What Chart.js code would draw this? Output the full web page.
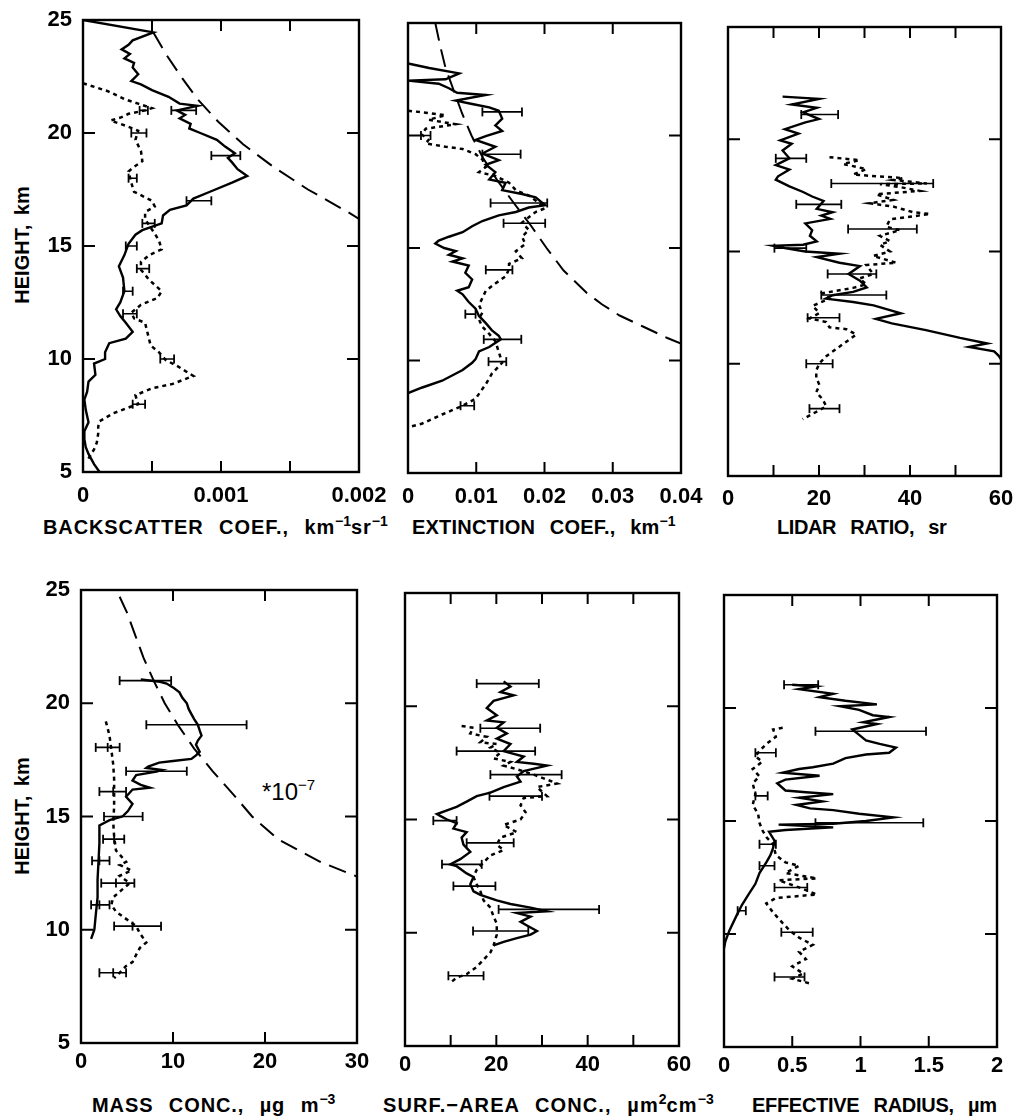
<!DOCTYPE html>
<html>
<head>
<meta charset="utf-8">
<script src="https://cdn.jsdelivr.net/npm/chart.js@4.4.1/dist/chart.umd.min.js"></script>
<style>
  body { margin:0; background:#fff; width:1016px; height:1120px; position:relative; overflow:hidden;
         font-family:'Liberation Sans', Arial, sans-serif; color:#000; }
  canvas { position:absolute; }
  .t { position:absolute; font-size:20px; font-weight:bold; line-height:24px; word-spacing:9px; white-space:nowrap; }
  .t sup { font-size:14px; vertical-align:8px; line-height:0; letter-spacing:0; }
  .yt { position:absolute; width:200px; text-align:center; transform:rotate(-90deg); word-spacing:4px; }
  .note { position:absolute; font-size:24px; line-height:28px; white-space:nowrap; }
  .note sup { font-size:15px; vertical-align:10px; line-height:0; }
</style>
</head>
<body>
<div class="t yt" style="left:-78px;top:233px">HEIGHT, km</div>
<div class="t yt" style="left:-78px;top:804px">HEIGHT, km</div>
<div class="t" style="left:43px;top:515px;letter-spacing:0.9px">BACKSCATTER COEF., km<sup>−1</sup>sr<sup>−1</sup></div>
<div class="t" style="left:412px;top:515px;letter-spacing:0.2px">EXTINCTION COEF., km<sup>−1</sup></div>
<div class="t" style="left:777px;top:515px;letter-spacing:-0.4px">LIDAR RATIO, sr</div>
<div class="t" style="left:92px;top:1093px;letter-spacing:0.9px">MASS CONC., µg m<sup>−3</sup></div>
<div class="t" style="left:383px;top:1093px;letter-spacing:1.1px">SURF.−AREA CONC., µm<sup>2</sup>cm<sup>−3</sup></div>
<div class="t" style="left:752px;top:1093px;letter-spacing:-0.3px">EFFECTIVE RADIUS, µm</div>
<div class="note" style="left:262px;top:778px">*10<sup>−7</sup></div>

<script>
// ── axes ─────────────────────────────────────────────────────────────
const hTickVals = [5, 10, 15, 20, 25];
const hTickText = ['5', '10', '15', '20', '25'];

const bsTickVals = [0, 0.0005, 0.001, 0.0015, 0.002];
const bsTickText = ['0', '', '0.001', '', '0.002'];
const exTickVals = [0, 0.01, 0.02, 0.03, 0.04];
const exTickText = ['0', '0.01', '0.02', '0.03', '0.04'];
const lrTickVals = [0, 10, 20, 30, 40, 50, 60];
const lrTickText = ['0', '', '20', '', '40', '', '60'];
const msTickVals = [0, 10, 20, 30];
const msTickText = ['0', '10', '20', '30'];
const saTickVals = [0, 10, 20, 30, 40, 50, 60];
const saTickText = ['0', '', '20', '', '40', '', '60'];
const erTickVals = [0, 0.5, 1, 1.5, 2];
const erTickText = ['0', '0.5', '1', '1.5', '2'];

// ── profiles: [height km, value] ─────────────────────────────────────
const bsSolid = [[25.0,0],[24.45,0.00051],[24.1,0.00036],[23.9,0.00033],[23.7,0.00028],[23.5,0.00034],[23.3,0.00030],[23.1,0.00037],[22.9,0.00036],[22.6,0.00040],[22.3,0.00035],[22.15,0.00042],[21.9,0.00050],[21.6,0.00062],[21.3,0.00070],[21.2,0.00083],[21.0,0.00068],[20.8,0.00074],[20.65,0.00070],[20.4,0.00078],[20.2,0.00077],[20.0,0.00085],[19.7,0.00097],[19.4,0.00103],[19.1,0.00110],[18.9,0.00105],[18.7,0.00108],[18.4,0.00112],[18.1,0.00119],[17.8,0.00108],[17.4,0.00092],[17.1,0.00080],[16.8,0.00075],[16.6,0.00063],[16.35,0.00058],[16.0,0.00057],[15.7,0.00043],[15.5,0.00038],[15.1,0.00033],[14.6,0.00030],[14.1,0.00026],[13.6,0.00029],[13.0,0.00030],[12.5,0.00027],[12.2,0.00024],[11.9,0.00027],[11.6,0.00031],[11.2,0.00036],[10.9,0.00031],[10.7,0.00019],[10.3,0.00016],[10.0,0.00016],[9.8,0.00008],[9.3,0.00009],[9.0,0.00004],[8.55,0.00003],[8.2,0.00001],[7.75,0.00002],[7.2,0.00004],[6.8,0.00001],[6.45,0.00001],[6.1,0.00002],[5.8,0.00004],[5.35,0.00008],[5.0,0.00012]];
const bsDotted = [[22.2,0],[21.85,0.00018],[21.5,0.00030],[21.3,0.00040],[21.1,0.00050],[21.0,0.00045],[20.85,0.00033],[20.7,0.00028],[20.55,0.00020],[20.3,0.00032],[20.1,0.00040],[19.7,0.00038],[19.2,0.00042],[18.75,0.00043],[18.5,0.00037],[18.3,0.00033],[17.8,0.00035],[17.4,0.00037],[17.0,0.00050],[16.75,0.00052],[16.5,0.00045],[16.2,0.00045],[15.9,0.00048],[15.55,0.00052],[15.25,0.00055],[14.85,0.00057],[14.6,0.00048],[14.3,0.00042],[13.95,0.00042],[13.5,0.00048],[13.0,0.00057],[12.7,0.00054],[12.4,0.00042],[12.05,0.00035],[11.8,0.00037],[11.6,0.00045],[11.1,0.00047],[10.6,0.00049],[10.3,0.00055],[9.95,0.00060],[9.7,0.00068],[9.25,0.00080],[8.9,0.00065],[8.7,0.00050],[8.4,0.00038],[8.0,0.00040],[7.9,0.00035],[7.6,0.00022],[7.25,0.00012],[7.0,0.00011],[6.7,0.00011],[6.3,0.00010],[6.0,0.00008],[5.5,0.00003]];
const bsModel = [[24.45,0.00051],[23.5,0.00060],[22.5,0.00071],[21.5,0.00083],[20.5,0.00098],[19.5,0.00116],[18.5,0.00138],[17.5,0.00163],[16.5,0.00192],[16.2,0.0020]];
const bsErr = [[21,0.00064,0.00082],[19,0.00093,0.00114],[17,0.00075,0.00093],[15,0.00031,0.00039],[13,0.00029,0.00036],[21,0.00041,0.00047],[20,0.00035,0.00046],[18,0.00033,0.00039],[16,0.00043,0.00052],[14,0.00039,0.00048],[12,0.00029,0.00039],[10,0.00056,0.00066],[8,0.00036,0.00045]];

const exSolid = [[23.2,0],[23.0,0.0031],[22.76,0.0075],[22.5,0.0055],[22.44,0],[22.3,0.0045],[22.1,0.0060],[21.9,0.0072],[21.8,0.0114],[21.55,0.0070],[21.4,0.0094],[21.25,0.0119],[21.1,0.0133],[20.75,0.0138],[20.45,0.0128],[20.2,0.0138],[19.97,0.0114],[19.8,0.0099],[19.5,0.0128],[19.2,0.0109],[18.9,0.0133],[18.7,0.0114],[18.37,0.0128],[18.05,0.0119],[17.9,0.0143],[17.57,0.0138],[17.4,0.0167],[17.25,0.0187],[16.9,0.0201],[16.8,0.0177],[16.6,0.0158],[16.45,0.0133],[16.2,0.0109],[15.97,0.0094],[15.7,0.0080],[15.5,0.0060],[15.33,0.0045],[15.2,0.0040],[15.0,0.0053],[14.86,0.0070],[14.7,0.0060],[14.54,0.0080],[14.4,0.0065],[14.22,0.0089],[13.9,0.0084],[13.6,0.0094],[13.26,0.0089],[13.1,0.0072],[12.94,0.0080],[12.6,0.0089],[12.3,0.0099],[11.98,0.0104],[11.66,0.0114],[11.34,0.0123],[11.1,0.0133],[10.94,0.0136],[10.6,0.0119],[10.4,0.0104],[10.06,0.0099],[9.9,0.0094],[9.58,0.0080],[9.1,0.0050],[8.8,0.0021],[8.55,0]];
const exDotted = [[21.1,0],[21.0,0.0030],[20.9,0.0055],[20.7,0.0030],[20.5,0.0070],[20.3,0.0026],[20.05,0.0020],[19.8,0.0030],[19.65,0.0026],[19.5,0.0055],[19.4,0.0080],[19.17,0.0099],[18.93,0.0109],[18.6,0.0114],[18.37,0.0104],[18.2,0.0128],[17.9,0.0148],[17.57,0.0158],[17.33,0.0177],[17.0,0.0192],[16.77,0.0201],[16.6,0.0187],[16.37,0.0177],[16.13,0.0167],[15.8,0.0177],[15.5,0.0167],[15.18,0.0172],[14.86,0.0158],[14.54,0.0167],[14.3,0.0148],[14.06,0.0148],[13.74,0.0143],[13.42,0.0128],[13.1,0.0114],[12.78,0.0109],[12.46,0.0104],[12.14,0.0109],[11.82,0.0104],[11.5,0.0109],[11.18,0.0119],[10.86,0.0128],[10.38,0.0133],[9.9,0.0138],[9.42,0.0123],[8.95,0.0114],[8.3,0.0099],[7.99,0.0080],[7.6,0.0050],[7.2,0.0021],[7.03,0]];
const exModel = [[25,0.0040],[24,0.0047],[23,0.0055],[22,0.0067],[21,0.0079],[20,0.0093],[19,0.0110],[18,0.0131],[17,0.0155],[16,0.0180],[15,0.0203],[14,0.0228],[13,0.0262],[12.5,0.0284],[12,0.0310],[11.5,0.0345],[11,0.0380],[10.75,0.0400]];
const exErr = [[21.05,0.0109,0.0167],[20,0.0019,0.0033],[19.17,0.0109,0.0165],[17,0.0121,0.0204],[16.1,0.0140,0.0201],[14.03,0.0114,0.0153],[12.06,0.0084,0.0099],[10.94,0.0111,0.0166],[9.95,0.0118,0.0144],[7.99,0.0077,0.0097]];

const lrSolid = [[21.9,12],[21.8,20],[21.55,14],[21.4,19.5],[21.2,16.5],[20.9,20],[20.75,17],[20.45,12.5],[20.25,15.5],[19.95,11.5],[19.8,14],[19.5,12],[19.15,13.5],[18.85,10.5],[18.65,13.5],[18.35,11],[18.2,10.5],[17.9,13.5],[17.65,16.5],[17.45,18.5],[17.25,21],[16.9,19.5],[16.75,23],[16.6,20.5],[16.45,22.5],[16.25,17],[15.95,18.5],[15.7,18],[15.45,19.5],[15.3,16.5],[15.25,10],[15.15,12.5],[15.0,17],[14.9,24.5],[14.75,19.5],[14.5,24.5],[14.35,29],[14.0,26.5],[13.7,29],[13.4,30.5],[13.2,27.5],[13.05,23],[12.9,21.5],[12.75,27.5],[12.6,32],[12.25,38],[12.0,32.5],[11.8,36],[11.5,43.5],[11.15,51],[10.9,57],[10.75,53],[10.55,58.5],[10.35,59.5],[10.2,60]];
const lrDotted = [[19.2,22.3],[19.07,28.9],[18.9,25.3],[18.67,30.4],[18.43,27.5],[18.35,32.6],[18.27,38.5],[18.19,36.3],[18.03,43.7],[18.0,33.4],[17.87,37.8],[17.7,42.2],[17.55,32.6],[17.3,36.3],[17.15,31.1],[17.0,36.3],[16.75,40.7],[16.67,44.4],[16.43,35.6],[16.1,34.8],[15.95,37.8],[15.7,33.4],[15.46,35.6],[15.3,33.4],[15.0,35.6],[14.8,31.9],[14.5,37.0],[14.4,30.4],[14.0,31.9],[13.8,28.9],[13.54,30.4],[13.38,27.5],[13.22,23.0],[13.14,20.8],[12.9,22.3],[12.58,18.6],[12.26,20.1],[12.02,17.9],[11.86,21.6],[11.62,22.3],[11.54,26.0],[11.3,28.2],[10.98,26.0],[10.66,23.8],[10.34,21.6],[10.02,20.1],[9.7,19.4],[9.38,19.4],[9.05,20.1],[8.73,19.4],[8.42,20.8],[8.1,21.6],[7.77,18.6],[7.53,16.4]];
const lrErr = [[21.1,16.1,24.2],[19.15,10.5,17.2],[17.1,15.0,24.9],[15.15,10.2,17.2],[14.0,21.9,32.6],[13.06,20.5,34.8],[18.03,22.7,45.1],[16.0,26.4,41.5],[12.05,17.5,24.5],[10.0,17.2,23.0],[8.0,17.9,24.5]];

const msSolid = [[21.05,6.5],[20.95,8.6],[20.87,9.3],[20.7,10.0],[20.48,10.7],[20.25,11.0],[20.0,11.5],[19.75,11.7],[19.52,12.0],[19.3,12.3],[19.05,12.7],[18.8,12.9],[18.57,13.1],[18.35,12.7],[18.17,12.5],[17.86,12.9],[17.7,12.5],[17.54,12.0],[17.45,10.0],[17.38,8.5],[17.2,7.3],[17.14,7.1],[17.05,8.8],[16.98,8.2],[16.83,6.0],[16.59,5.6],[16.4,6.5],[16.27,7.5],[16.19,5.6],[15.87,4.9],[15.56,5.6],[15.24,5.1],[15.0,4.5],[14.84,3.1],[14.6,2.0],[13.81,2.0],[13.0,1.9],[12.22,1.8],[11.43,1.8],[10.63,1.6],[10.0,1.45],[9.6,1.1]];
const msDotted = [[19.2,2.7],[18.57,3.1],[17.94,3.3],[17.3,3.5],[16.67,3.6],[16.03,3.6],[15.4,3.6],[14.76,3.5],[14.13,3.6],[13.5,3.8],[13.0,4.9],[12.86,4.2],[12.62,5.5],[12.38,4.2],[12.06,5.3],[11.75,4.4],[11.43,3.5],[11.1,3.3],[10.8,3.8],[10.48,4.9],[10.16,6.0],[9.84,6.4],[9.44,7.1],[9.2,6.4],[8.9,6.0],[8.57,5.6],[8.4,4.9],[8.1,4.2],[7.86,3.6]];
const msModel = [[24.7,4.2],[24,5.0],[23,5.9],[22,6.8],[21,7.9],[20,9.1],[19,10.6],[18,12.3],[17,14.3],[16,16.5],[15,18.6],[14,21.4],[13,26.0],[12.35,30]];
const msErr = [[21.0,4.2,9.8],[19.05,7.1,18.0],[17.0,4.9,11.5],[15.0,2.5,6.7],[18.05,1.6,2.9,4.2],[16.1,2.0,3.5,4.9],[14.0,2.4,3.6,4.7],[13.05,1.2,2.0,3.1],[12.06,2.2,3.8,5.8],[11.1,1.1,2.0,3.1],[10.16,3.6,5.6,8.7],[8.1,2.0,3.5,4.9]];

const saSolid = [[21.1,21.6],[20.87,23.1],[20.63,20.9],[20.48,23.8],[20.24,19.4],[19.92,17.9],[19.6,20.1],[19.37,17.9],[19.29,21.6],[19.05,20.1],[18.8,22.3],[18.57,20.1],[18.33,23.1],[18.02,21.6],[17.78,26.0],[17.54,24.5],[17.46,28.2],[17.38,31.1],[17.14,26.0],[16.9,24.5],[16.67,25.3],[16.43,21.6],[16.19,18.7],[16.03,15.7],[15.79,13.5],[15.56,11.3],[15.4,9.2],[15.24,7.0],[15.16,7.7],[15.0,9.2],[14.84,11.3],[14.6,10.6],[14.44,13.5],[14.2,12.4],[13.89,12.8],[13.57,14.3],[13.25,12.1],[13.02,9.9],[12.94,11.3],[12.62,13.5],[12.46,15.0],[12.14,14.3],[11.83,15.0],[11.67,16.5],[11.43,20.1],[11.27,23.1],[11.11,27.5],[10.95,31.1],[10.87,24.5],[10.71,27.5],[10.48,25.3],[10.32,26.7],[10.08,28.9],[9.92,27.5],[9.76,24.5],[9.6,21.6],[9.44,19.4]];
const saDotted = [[19.13,12.4],[19.05,15.0],[18.8,14.3],[18.65,17.9],[18.41,16.5],[18.33,20.1],[18.17,18.7],[17.94,20.9],[17.7,19.4],[17.54,23.1],[17.38,21.6],[17.22,24.5],[16.98,28.2],[16.59,33.3],[16.43,28.9],[16.03,31.1],[15.95,26.0],[15.63,25.3],[15.32,26.4],[15.0,25.3],[14.76,21.6],[14.44,24.5],[14.2,20.9],[13.89,20.1],[13.65,21.6],[13.41,18.7],[13.1,17.2],[12.78,15.7],[12.46,15.0],[12.14,15.7],[11.83,16.5],[11.43,17.2],[11.11,18.7],[10.71,19.4],[10.4,20.1],[9.92,20.1],[9.44,19.4],[9.13,18.7],[8.81,17.2],[8.49,15.7],[8.17,13.5],[8.02,11.3],[7.78,9.9]];
const saErr = [[21.0,15.7,29.3],[19.03,16.5,29.6],[18.02,11.3,28.5],[16.98,18.7,34.3],[16.03,18.5,30.0],[14.95,6.2,11.3],[13.97,13.5,23.8],[13.02,8.1,16.8],[12.06,10.6,19.8],[11.03,20.5,42.5],[10.08,14.9,27.0],[8.1,9.5,17.2]];

const erSolid = [[21.03,0.50],[20.95,0.67],[20.83,0.55],[20.63,0.80],[20.48,0.70],[20.32,0.89],[20.16,1.12],[20.08,0.85],[19.92,0.99],[19.68,1.09],[19.6,1.21],[19.37,1.02],[19.29,1.12],[19.05,0.94],[18.81,0.99],[18.57,1.04],[18.41,1.14],[18.25,1.26],[18.02,1.21],[17.94,1.04],[17.78,0.89],[17.54,0.80],[17.38,0.65],[17.3,0.55],[17.14,0.43],[17.0,0.70],[16.83,0.45],[16.67,0.39],[16.35,0.45],[16.27,0.60],[16.19,0.80],[16.03,0.55],[15.87,0.72],[15.71,0.53],[15.56,0.63],[15.48,0.80],[15.32,0.99],[15.16,1.24],[15.0,1.04],[14.88,0.80],[14.84,0.40],[14.72,0.80],[14.6,0.45],[14.52,0.33],[14.13,0.37],[13.81,0.36],[13.49,0.34],[13.17,0.31],[12.7,0.26],[12.22,0.23],[11.75,0.18],[11.27,0.13],[10.79,0.09],[10.16,0.04],[9.68,0.01],[9.37,0]];
const erDotted = [[19.13,0.43],[19.05,0.36],[18.73,0.38],[18.41,0.31],[18.1,0.26],[17.86,0.23],[17.62,0.28],[17.3,0.21],[16.98,0.26],[16.67,0.21],[16.19,0.23],[15.71,0.21],[15.32,0.25],[14.92,0.26],[14.6,0.28],[14.29,0.31],[13.97,0.36],[13.49,0.38],[13.17,0.45],[13.02,0.55],[12.7,0.45],[12.54,0.60],[12.46,0.68],[12.38,0.40],[12.06,0.55],[11.75,0.68],[11.59,0.38],[11.35,0.31],[10.95,0.36],[10.48,0.43],[10.16,0.48],[9.84,0.55],[9.52,0.65],[9.21,0.55],[8.89,0.60],[8.57,0.50],[8.25,0.58],[8.02,0.50],[7.78,0.65]];
const erErr = [[21.03,0.44,0.69],[18.97,0.67,1.48],[18.02,0.23,0.38],[16.11,0.23,0.32],[14.92,0.67,1.46],[13.97,0.26,0.38],[13.02,0.26,0.37],[12.06,0.37,0.61],[11.03,0.10,0.16],[10.08,0.42,0.65],[8.1,0.37,0.59]];

// ── dataset builders ──────────────────────────────────────────────────
const prof = pts => pts.map(([h, v]) => ({ x: v, y: h }));
function errPts(list) {
  const out = [];
  list.forEach(e => { e.slice(1).forEach(v => out.push({ x: v, y: e[0] })); out.push({ x: e[1], y: null }); });
  return out;
}
const line = { borderColor:'#000', pointRadius:0, showLine:true, tension:0 };
const solid  = d => ({ ...line, data: prof(d), borderWidth: 2.4 });
const dotted = d => ({ ...line, data: prof(d), borderWidth: 2.5, borderDash: [4, 4] });
const dashed = d => ({ ...line, data: prof(d), borderWidth: 2, borderDash: [18, 9] });
const bars   = d => ({ data: errPts(d), showLine:true, borderColor:'#000', borderWidth:1.6,
  pointStyle:'line', pointRotation:90, pointRadius:4.5, pointBorderWidth:1.8, pointBorderColor:'#000' });

// box + inward ticks on all four sides
const frame = {
  id: 'frame',
  afterDraw(chart) {
    const { ctx, chartArea: a, scales: { x, y } } = chart;
    ctx.save();
    ctx.strokeStyle = '#000'; ctx.lineWidth = 2.4;
    ctx.strokeRect(a.left, a.top, a.right - a.left, a.bottom - a.top);
    ctx.lineWidth = 2; ctx.beginPath();
    x.ticks.forEach(t => {
      const px = x.getPixelForValue(t.value);
      if (px < a.left + 2 || px > a.right - 2) return;
      ctx.moveTo(px, a.bottom); ctx.lineTo(px, a.bottom - 11);
      ctx.moveTo(px, a.top); ctx.lineTo(px, a.top + 11);
    });
    y.ticks.forEach(t => {
      const py = y.getPixelForValue(t.value);
      if (py < a.top + 2 || py > a.bottom - 2) return;
      ctx.moveTo(a.left, py); ctx.lineTo(a.left + 12, py);
      ctx.moveTo(a.right, py); ctx.lineTo(a.right - 12, py);
    });
    ctx.stroke(); ctx.restore();
  }
};

const tickFont = { family: "'Liberation Sans', Arial, sans-serif", size: 22, weight: 'bold' };

const panels = [
  { box:[83,20,359,472],   xMax:0.002, tv:bsTickVals, tt:bsTickText, yLab:true,  xpad:11, sets:[dashed(bsModel), solid(bsSolid), dotted(bsDotted), bars(bsErr)] },
  { box:[408,23,681,473],  xMax:0.04,  tv:exTickVals, tt:exTickText, yLab:false, xpad:11, sets:[dashed(exModel), solid(exSolid), dotted(exDotted), bars(exErr)] },
  { box:[728,27,1001,476], xMax:60,    tv:lrTickVals, tt:lrTickText, yLab:false, xpad:10, sets:[solid(lrSolid), dotted(lrDotted), bars(lrErr)] },
  { box:[81,590,357,1043], xMax:30,    tv:msTickVals, tt:msTickText, yLab:true,  xpad:6,  sets:[dashed(msModel), solid(msSolid), dotted(msDotted), bars(msErr)] },
  { box:[405,593,679,1046],xMax:60,    tv:saTickVals, tt:saTickText, yLab:false, xpad:6,  sets:[solid(saSolid), dotted(saDotted), bars(saErr)] },
  { box:[724,595,997,1047],xMax:2,     tv:erTickVals, tt:erTickText, yLab:false, xpad:6,  sets:[solid(erSolid), dotted(erDotted), bars(erErr)] },
];

panels.forEach(p => {
  const [L, T, R, B] = p.box;
  const w = R - L + 150, h = B - T + 70;
  const cv = document.createElement('canvas');
  cv.width = w; cv.height = h;
  cv.style.cssText = `left:${L - 90}px;top:${T - 30}px;width:${w}px;height:${h}px`;
  document.body.appendChild(cv);
  new Chart(cv, {
    type: 'scatter',
    data: { datasets: p.sets },
    plugins: [frame],
    options: {
      responsive: false, animation: false, events: [],
      layout: { padding: { left: 0, top: 30, right: 60, bottom: 0 } },
      plugins: { legend: { display: false }, tooltip: { enabled: false } },
      scales: {
        x: { type:'linear', min:0, max:p.xMax,
             afterBuildTicks: s => { s.ticks = p.tv.map(v => ({ value: v })); },
             afterFit: s => { s.height = 40; },
             grid: { display:false, drawTicks:false }, border: { display:false },
             ticks: { autoSkip:false, maxRotation:0, padding:p.xpad, color:'#000', font:tickFont,
                      callback: (v, i) => p.tt[i] } },
        y: { type:'linear', min:5, max:25,
             afterBuildTicks: s => { s.ticks = hTickVals.map(v => ({ value: v })); },
             afterFit: s => { s.width = 90; },
             grid: { display:false, drawTicks:false }, border: { display:false },
             ticks: { display:p.yLab, padding:11, color:'#000', font:tickFont,
                      callback: (v, i) => hTickText[i] } }
      }
    }
  });
});
</script>
</body>
</html>
